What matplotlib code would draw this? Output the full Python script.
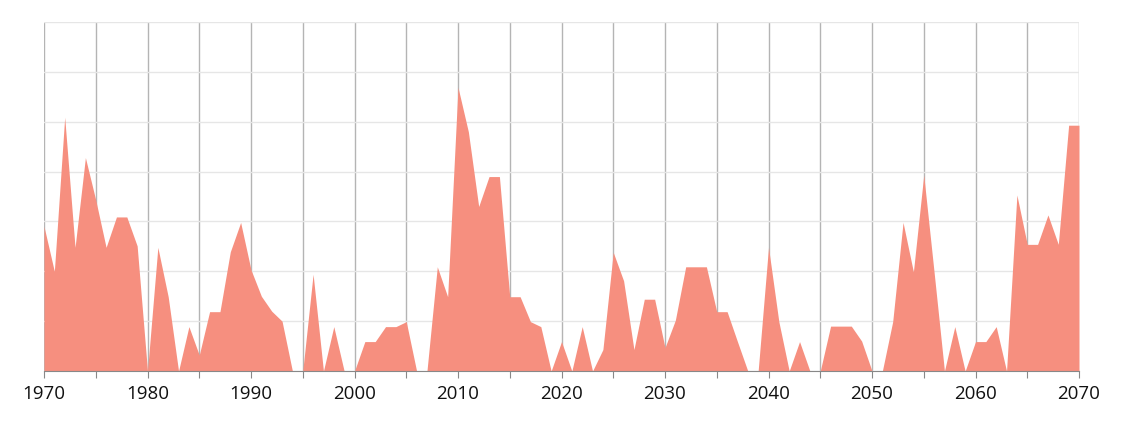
import matplotlib
matplotlib.use("Agg")
import matplotlib.pyplot as plt
import numpy as np

years = list(range(1970, 2071))
values = [
    2.90, 2.00, 5.09, 2.48, 4.28, 3.43, 2.48, 3.09, 3.09, 2.51,   # 1970-1979
    0.00, 2.48, 1.49, 0.00, 0.89, 0.32, 1.19, 1.19, 2.39, 2.98,   # 1980-1989
    2.03, 1.50, 1.20, 1.00, 0.00, 0.00, 1.94, 0.00, 0.89, 0.00,   # 1990-1999
    0.00, 0.59, 0.59, 0.89, 0.89, 0.99, 0.00, 0.00, 2.09, 1.49,   # 2000-2009
    5.69, 4.80, 3.30, 3.90, 3.90, 1.49, 1.49, 0.99, 0.89, 0.00,   # 2010-2019
    0.59, 0.00, 0.89, 0.00, 0.43, 2.38, 1.81, 0.43, 1.44, 1.44,   # 2020-2029
    0.47, 1.02, 2.09, 2.09, 2.09, 1.19, 1.19, 0.59, 0.00, 0.00,   # 2030-2039
    2.48, 0.99, 0.00, 0.59, 0.00, 0.00, 0.90, 0.90, 0.90, 0.60,   # 2040-2049
    0.00, 0.00, 0.99, 2.98, 1.99, 3.93, 1.98, 0.00, 0.89, 0.00,   # 2050-2059
    0.59, 0.59, 0.89, 0.00, 3.53, 2.54, 2.54, 3.13, 2.54, 4.93,   # 2060-2069
    4.93,                                                         # 2070
]
xtick_labels = [str(y) for y in range(1970, 2071, 10)]

plt.rcParams['font.family'] = ['Open Sans', 'DejaVu Sans']

fig = plt.figure(figsize=(11.24, 4.23), dpi=100)
ax = fig.add_axes([44/1124, 52/423, 1035/1124, 349/423])

ax.fill_between(years, values, 0, color='#F68F7F', linewidth=0, zorder=3)

ax.set_xlim(1970, 2070)
ax.set_ylim(0, 7)

five_years = list(range(1970, 2071, 5))
ax.set_xticks(five_years)
ax.set_xticklabels([str(y) if str(y) in xtick_labels else '' for y in five_years])
ax.set_yticks(np.arange(0, 7.01, 1))
ax.set_yticklabels([])

ax.grid(axis='x', color='#b4b4b4', linewidth=1, zorder=1)
ax.grid(axis='y', color='#e6e6e6', linewidth=1, zorder=0)

ax.tick_params(axis='x', length=5, color='#888888', labelsize=13.5,
               labelcolor='#111111', pad=5)
ax.tick_params(axis='y', length=0)

for s in ['top', 'right', 'left']:
    ax.spines[s].set_visible(False)
ax.spines['bottom'].set_color('#888888')
ax.spines['bottom'].set_zorder(4)

fig.savefig('out.png', dpi=100)
